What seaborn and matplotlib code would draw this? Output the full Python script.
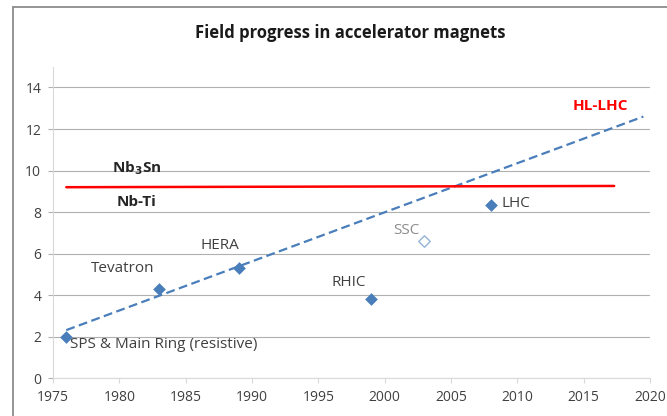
import matplotlib
matplotlib.use("Agg")
import matplotlib.pyplot as plt
from matplotlib.lines import Line2D
import seaborn as sns

# machines, year and dipole field (T)
machines = ["SPS & Main Ring (resistive)", "Tevatron", "HERA", "RHIC", "LHC"]
years = [1976, 1983, 1989, 1999, 2008]
fields = [2.0, 4.3, 5.3, 3.8, 8.33]

# cancelled machine, drawn hollow
ssc_year = [2003]
ssc_field = [6.6]

# trend line and the Nb-Ti / Nb3Sn limit line
trend_years = [1976, 2019.5]
trend_field = [2.32, 12.6]
limit_years = [1976, 2017.3]
limit_field = [9.2, 9.26]

x_ticks = [1975, 1980, 1985, 1990, 1995, 2000, 2005, 2010, 2015, 2020]
y_ticks = [0, 2, 4, 6, 8, 10, 12, 14]

sns.set_style("white")
plt.rcParams['font.family'] = ['Open Sans', 'DejaVu Sans']

blue = "#4A7EBB"
fig = plt.figure(figsize=(6.67, 4.16), dpi=100)
ax = fig.add_axes([0.0795, 0.0906, 0.895, 0.749])

sns.lineplot(x=trend_years, y=trend_field, ax=ax, color=blue, lw=1.6,
             linestyle=(0, (4, 2)), zorder=2)
sns.lineplot(x=limit_years, y=limit_field, ax=ax, color="#FF0000", lw=1.8, zorder=2)
sns.scatterplot(x=years, y=fields, ax=ax, marker="D", s=42, color=blue,
                linewidth=0, zorder=3)
sns.scatterplot(x=ssc_year, y=ssc_field, ax=ax, marker="D", s=34, facecolor="white",
                edgecolor="#95B3D7", linewidth=1, zorder=3)

# point labels (offsets in points)
offsets = [(2.7, -5.3, "left"), (-26.3, 15.1, "center"), (-13.7, 16.6, "center"),
           (-16.3, 12.2, "center"), (7.7, 1.2, "left")]
for name, xv, yv, (dx, dy, ha) in zip(machines, years, fields, offsets):
    ax.annotate(name, (xv, yv), xytext=(dx, dy), textcoords="offset points",
                ha=ha, va="center", fontsize=11, color="#404040")
ax.annotate("SSC", (ssc_year[0], ssc_field[0]), xytext=(-12.7, 7.9),
            textcoords="offset points", ha="center", va="center",
            fontsize=11, color="#8C8C8C")

ax.annotate(r"Nb$_\mathbf{3}$Sn", (limit_years[0], limit_field[0]), xytext=(50.9, 13.9),
            textcoords="offset points", ha="center", va="center",
            fontsize=11, fontweight="bold", color="#262626")
ax.annotate("Nb-Ti", (limit_years[0], limit_field[0]), xytext=(50.9, -10.6),
            textcoords="offset points", ha="center", va="center",
            fontsize=11, fontweight="bold", color="#262626")
ax.annotate("HL-LHC", (trend_years[1], trend_field[1]), xytext=(-31.2, 7.9),
            textcoords="offset points", ha="center", va="center",
            fontsize=11, fontweight="bold", color="#FF0000")

ax.set_xlim(1975, 2020)
ax.set_ylim(0, 15)
ax.set_xticks(x_ticks)
ax.set_yticks(y_ticks)
ax.set_xlabel("")
ax.set_ylabel("")
ax.yaxis.grid(True, color="#B0B0B0", lw=0.8)
ax.xaxis.grid(False)
ax.set_axisbelow(True)
for s in ["top", "right"]:
    ax.spines[s].set_visible(False)
for s in ["left", "bottom"]:
    ax.spines[s].set_color("#D9D9D9")
    ax.spines[s].set_linewidth(0.8)
ax.tick_params(axis="x", length=3.5, width=0.8, color="#D9D9D9", pad=5,
               labelsize=10, labelcolor="#404040", bottom=True)
ax.tick_params(axis="y", length=3.5, width=0.8, color="#B0B0B0", pad=5,
               labelsize=10, labelcolor="#404040", left=True)

fig.text(0.525, 0.921, "Field progress in accelerator magnets", ha="center",
         va="center", fontsize=12, fontweight="bold", color="#1A1A1A")

# chart border (top and left edges visible in the crop)
fig.add_artist(Line2D([0.019, 1.0], [0.983, 0.983], transform=fig.transFigure,
                      color="#8C8C8C", lw=1.3))
fig.add_artist(Line2D([0.019, 0.019], [0.0, 0.983], transform=fig.transFigure,
                      color="#8C8C8C", lw=1.3))

fig.savefig("out.png", dpi=100)
